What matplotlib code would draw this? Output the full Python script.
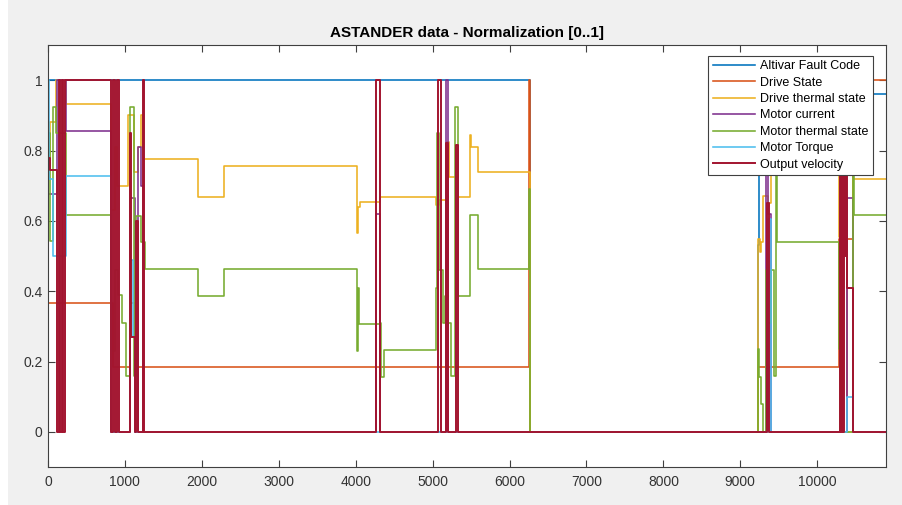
#!/usr/bin/env python

import numpy as np
import matplotlib
matplotlib.use('Agg')
import matplotlib.pyplot as plt
from matplotlib.patches import Rectangle
from matplotlib.ticker import FormatStrFormatter

plt.rcParams['font.family'] = ['Liberation Sans', 'DejaVu Sans']

# Sample count of the recording (last x value)
n_samples = 10894

# Step signals: sample index where the value changes, and the new value
fault_x = [0, 6266, 9228, 9240, 10470]
fault_y = [1, 0, 0.53, 1, 0.96]

state_x = [0, 845, 1066, 1131, 6253, 6266, 9230, 10283, 10296, 10387, 10470]
state_y = [0.365, 0.184, 0.365, 0.184, 1, 0, 0.184, 0.547, 0, 0.547, 1]

drive_th_x = [0, 26, 104, 234, 819, 871, 897, 1040, 1118, 1170, 1209, 1235,
              1950, 2288, 4017, 4030, 4056, 4316, 5044, 5083, 5187, 5213,
              5330, 5486, 5500, 5590, 6266, 9225, 9250, 9270, 9300, 9360,
              9400, 10283, 10296, 10470]
drive_th_y = [0.78, 0.88, 1.0, 0.932, 0.63, 0.81, 0.698, 0.9, 0.74, 0.81, 0.9,
              0.776, 0.669, 0.757, 0.565, 0.64, 0.653, 0.669, 0.645, 0.66,
              0.825, 0.726, 0.669, 0.844, 0.81, 0.74, 0, 0.547, 0.51, 0.54,
              0.67, 0.65, 0.8, 0.555, 0, 0.72]

current_x = [0, 117, 234, 819, 1066, 1131, 1170, 1209, 1235, 4264, 4316,
             5180, 5200, 9340, 9360, 9400, 10387, 10465]
current_y = [0.675, 1.0, 0.855, 0, 0.666, 0, 0.81, 0.70, 0, 0.62, 0,
             1.0, 0, 0.8, 0.62, 0, 0.665, 0]

motor_th_x = [0, 26, 65, 104, 234, 819, 871, 910, 962, 1014, 1066, 1118,
              1150, 1209, 1261, 1950, 2288, 4017, 4030, 4045, 4316, 4330,
              4368, 5044, 5057, 5083, 5135, 5161, 5200, 5240, 5291, 5330,
              5486, 5590, 6253, 6266, 9225, 9240, 9270, 9300, 9334, 9360,
              9400, 9440, 9460, 9477, 10283, 10300, 10470, 10478]
motor_th_y = [0.85, 0.542, 0.924, 0.85, 0.617, 0.23, 0.46, 0.39, 0.31, 0.16,
              0.924, 0.16, 0.613, 0.54, 0.462, 0.386, 0.462, 0.23, 0.41,
              0.307, 0.31, 0.155, 0.233, 0.41, 0.85, 0.46, 0.31, 0.386, 0.31,
              0.16, 0.924, 0.386, 0.617, 0.462, 0.69, 0, 0.235, 0.155, 0.08,
              0, 0.46, 0.31, 0.46, 0.16, 0.8, 0.54, 0.235, 0, 0.81, 0.617]

torque_x = [0, 13, 65, 234, 819, 1066, 1100, 1131, 9360, 9400, 10387, 10465]
torque_y = [1.0, 0.72, 0.5, 0.728, 0, 0.488, 0.27, 0, 0.606, 0, 0.10, 0]

velocity_x = [0, 26, 117, 143, 156, 182, 195, 221, 819, 845, 871, 897, 923,
              1066, 1080, 1131, 1150, 1170, 1235, 1248, 4264, 4316, 5070,
              5109, 5180, 5200, 5304, 5330, 9350, 9375, 10296, 10309, 10322,
              10335, 10348, 10361, 10374, 10387, 10465]
velocity_y = [0.78, 0.745, 0, 1, 0, 1, 0, 1, 0, 1, 0, 1, 0, 0.85, 0.27, 0,
              0.6, 0, 1, 0, 1, 0, 1, 0, 0.82, 0, 0.815, 0, 0.65, 0, 1, 0, 1,
              0, 1, 0.5, 1, 0.41, 0]

labels = ['Altivar Fault Code', 'Drive State', 'Drive thermal state',
          'Motor current', 'Motor thermal state', 'Motor Torque',
          'Output velocity']
colors = ['#0072BD', '#D95319', '#EDB120', '#7E2F8E', '#77AC30', '#4DBEEE',
          '#A2142F']
series = [(fault_x, fault_y), (state_x, state_y), (drive_th_x, drive_th_y),
          (current_x, current_y), (motor_th_x, motor_th_y),
          (torque_x, torque_y), (velocity_x, velocity_y)]

fig = plt.figure(figsize=(9.03, 5.05), dpi=100, facecolor='#f0f0f0')
# white strip on the left edge of the screenshot
fig.patches.append(Rectangle((0, 0), 8 / 903, 1, transform=fig.transFigure,
                             facecolor='white', edgecolor='none', zorder=-1))
ax = fig.add_axes([48 / 903, 38 / 505, 838 / 903, 422 / 505])

for (xs, ys), lab, col in zip(series, labels, colors):
    x = np.append(xs, n_samples)
    y = np.append(ys, ys[-1])
    lw = 1.4 if lab == 'Output velocity' else 1.15
    ax.plot(x, y, drawstyle='steps-post', color=col, lw=lw, label=lab)

ax.set_xlim(0, n_samples)
ax.set_ylim(-0.1, 1.1)
ax.set_xticks(np.arange(0, 10001, 1000))
ax.set_yticks(np.arange(0, 1.01, 0.2))
ax.yaxis.set_major_formatter(FormatStrFormatter('%g'))
ax.tick_params(direction='in', length=5, width=0.8, colors='#404040',
               labelcolor='#333333', labelsize=10, top=True, right=True)
ax.tick_params(axis='y', pad=4)
ax.tick_params(axis='x', pad=6)
for sp in ax.spines.values():
    sp.set_color('#404040')
    sp.set_linewidth(0.8)

ax.set_title('ASTANDER data - Normalization [0..1]', fontsize=11,
             fontweight='bold', pad=6)

leg = ax.legend(loc='upper right', bbox_to_anchor=(873 / 903, 1 - 56 / 505),
                bbox_transform=fig.transFigure, borderaxespad=0,
                fontsize=9, handlelength=3.4, labelspacing=0.35,
                handletextpad=0.4, borderpad=0.35, fancybox=False,
                framealpha=1, edgecolor='#404040')
leg.get_frame().set_linewidth(0.8)

fig.savefig('out.png', dpi=100, facecolor=fig.get_facecolor())
